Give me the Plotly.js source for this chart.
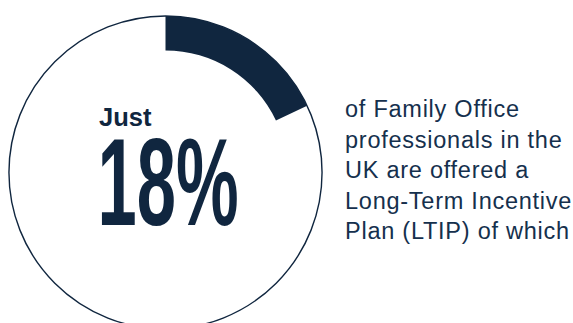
<!DOCTYPE html>
<html>
<head>
<meta charset="utf-8">
<script src="https://cdn.plot.ly/plotly-3.0.1.min.js"></script>
<style>
html, body { margin: 0; padding: 0; overflow: hidden; background: #ffffff; width: 573px; height: 323px; }
#chart { width: 573px; height: 340px; }
</style>
</head>
<body>
<div id="chart"></div>
<script>
// Data
const categories = ['Offered an LTIP', 'Not offered an LTIP'];
const shareValues = [18, 82];
const outlineValues = [100];
const leadText = 'Just';
const bigText = '18%';
const sideLines = ['of Family Office', 'professionals in the', 'UK are offered a', 'Long-Term Incentive', 'Plan (LTIP) of which'];

// Style
const NAVY = '#10263f';
const W = 573, H = 340;
const dom = { x: [9 / W, 322 / W], y: [(H - 329) / H, (H - 16) / H] };
const py = (p) => (H - p) / H;
const px = (p) => p / W;

const traces = [
  {
    type: 'pie',
    values: outlineValues,
    labels: ['All'],
    sort: false,
    hole: 0,
    domain: dom,
    marker: { colors: ['rgba(0,0,0,0)'], line: { color: NAVY, width: 1.4 } },
    textinfo: 'none',
    hoverinfo: 'skip',
    showlegend: false
  },
  {
    type: 'pie',
    values: shareValues,
    labels: categories,
    sort: false,
    direction: 'clockwise',
    rotation: 0,
    hole: 0.78,
    domain: dom,
    marker: { colors: [NAVY, 'rgba(0,0,0,0)'], line: { width: 0 } },
    textinfo: 'none',
    hoverinfo: 'skip',
    showlegend: false
  }
];

const layout = {
  width: W,
  height: H,
  margin: { l: 0, r: 0, t: 0, b: 0 },
  paper_bgcolor: '#ffffff',
  plot_bgcolor: '#ffffff',
  showlegend: false,
  annotations: [
    {
      text: '<b>' + leadText + '</b>',
      xref: 'paper', yref: 'paper',
      x: px(97), y: py(116.5),
      xanchor: 'left', yanchor: 'middle',
      showarrow: false,
      font: { family: 'Liberation Sans, Arial, sans-serif', size: 25.5, color: NAVY }
    },
    {
      text: '<b>' + bigText + '</b>',
      xref: 'paper', yref: 'paper',
      x: px(168), y: py(182),
      xanchor: 'center', yanchor: 'middle',
      showarrow: false,
      font: { family: 'Liberation Sans Narrow, Liberation Sans, Arial, sans-serif', size: 124, color: NAVY }
    },
    {
      text: sideLines.join('<br>'),
      xref: 'paper', yref: 'paper',
      x: px(343), y: py(170),
      xanchor: 'left', yanchor: 'middle', align: 'left',
      showarrow: false,
      font: { family: 'Liberation Sans, Arial, sans-serif', size: 23.5, color: '#15304d' }
    }
  ]
};

Plotly.newPlot('chart', traces, layout, { staticPlot: true, displayModeBar: false }).then(function () {
  document.querySelectorAll('.annotation-text').forEach(function (t) {
    if (t.textContent === bigText) {
      t.setAttribute('textLength', '141');
      t.setAttribute('lengthAdjust', 'spacingAndGlyphs');
    } else if (t.textContent.indexOf('Family') >= 0) {
      t.style.letterSpacing = '0.75px';
    }
  });
});
</script>
</body>
</html>
